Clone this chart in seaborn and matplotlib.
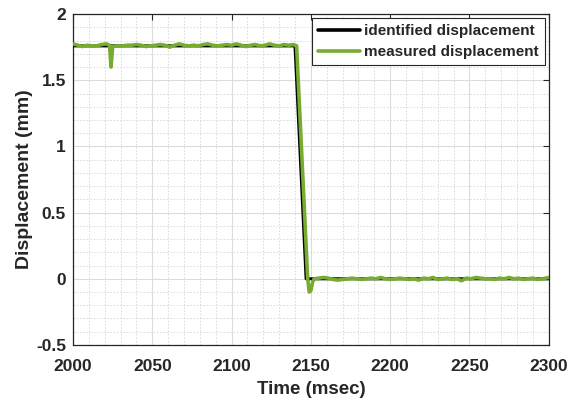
import numpy as np
import pandas as pd
import matplotlib
matplotlib.use("Agg")
import matplotlib.pyplot as plt
from matplotlib.ticker import MultipleLocator
import seaborn as sns

# ---- data ----
ident_t = [2000, 2140, 2147, 2300]
ident_v = [1.76, 1.76, 0.0, 0.0]

meas_t = [2000, 2003, 2006, 2009, 2012, 2015, 2018, 2021, 2023, 2024, 2025, 2028,
          2031, 2034, 2037, 2040, 2043, 2046, 2049, 2052, 2055, 2058, 2061, 2064,
          2067, 2070, 2073, 2076, 2079, 2082, 2085, 2088, 2091, 2094, 2097, 2100,
          2103, 2106, 2109, 2112, 2115, 2118, 2121, 2124, 2127, 2130, 2133, 2136,
          2139, 2141, 2148, 2149, 2150, 2151, 2152, 2155, 2158, 2161, 2164, 2167,
          2170, 2173, 2176, 2179, 2182, 2185, 2188, 2191, 2194, 2197, 2200, 2203,
          2206, 2209, 2212, 2215, 2218, 2221, 2224, 2227, 2230, 2233, 2236, 2239,
          2242, 2245, 2248, 2251, 2254, 2257, 2260, 2263, 2266, 2269, 2272, 2275,
          2278, 2281, 2284, 2287, 2290, 2293, 2296, 2300]
meas_v = [1.775, 1.765, 1.755, 1.765, 1.76, 1.76, 1.77, 1.775, 1.765, 1.60, 1.755, 1.76,
          1.76, 1.765, 1.765, 1.77, 1.765, 1.755, 1.76, 1.765, 1.77, 1.765, 1.75, 1.765,
          1.775, 1.765, 1.76, 1.765, 1.76, 1.77, 1.775, 1.765, 1.76, 1.765, 1.77, 1.765,
          1.775, 1.765, 1.755, 1.765, 1.77, 1.76, 1.765, 1.775, 1.765, 1.76, 1.77, 1.765,
          1.77, 1.76, 0.0, -0.10, -0.09, -0.03, 0.0, 0.005, 0.01, 0.005, -0.005, -0.01,
          -0.005, 0.0, 0.005, 0.0, -0.005, 0.0, 0.005, 0.0, 0.01, 0.0, -0.005, 0.0,
          0.005, 0.0, -0.005, 0.0, -0.01, 0.005, 0.0, 0.01, -0.005, 0.0, 0.005, -0.005,
          0.0, -0.015, 0.005, 0.0, 0.01, 0.005, 0.0, 0.0, -0.005, 0.005, 0.0, 0.01,
          0.0, 0.005, -0.005, 0.0, 0.005, -0.005, 0.0, 0.01]

labels = ["identified displacement", "measured displacement"]
x_ticks = [2000, 2050, 2100, 2150, 2200, 2250, 2300]
y_ticks = [-0.5, 0, 0.5, 1, 1.5, 2]
y_tick_labels = ["-0.5", "0", "0.5", "1", "1.5", "2"]

sns.set_style("white")
plt.rcParams['font.family'] = ['Arial', 'Liberation Sans', 'DejaVu Sans']

fig = plt.figure(figsize=(5.76, 4.03), dpi=100)
ax = fig.add_axes([0.1267, 0.144, 0.826, 0.821])

ident_df = pd.DataFrame({"t": ident_t, "v": ident_v})
meas_df = pd.DataFrame({"t": meas_t, "v": meas_v})
sns.lineplot(data=ident_df, x="t", y="v", ax=ax, color="black", lw=2.2,
             label=labels[0], zorder=3)
sns.lineplot(data=meas_df, x="t", y="v", ax=ax, color="#77AC30", lw=2.6,
             label=labels[1], zorder=4)

ax.set_xlim(2000, 2300)
ax.set_ylim(-0.5, 2)
ax.set_xticks(x_ticks)
ax.set_yticks(y_ticks)
ax.set_xticklabels([str(t) for t in x_ticks])
ax.set_yticklabels(y_tick_labels)
ax.xaxis.set_minor_locator(MultipleLocator(10))
ax.yaxis.set_minor_locator(MultipleLocator(0.1))
ax.grid(True, which="major", color="#dcdcdc", lw=0.8, ls="-")
ax.grid(True, which="minor", color="#d6d6d6", lw=0.6, ls=(0, (2, 2)))
ax.set_axisbelow(True)
ax.tick_params(which="major", direction="in", length=4, width=0.8, top=True, right=True,
               labelsize=12.5, colors="#262626")
ax.tick_params(axis="x", which="major", pad=10)
ax.tick_params(axis="y", which="major", pad=5)
ax.tick_params(which="minor", length=0)
for lab in ax.get_xticklabels() + ax.get_yticklabels():
    lab.set_fontweight("bold")
for s in ax.spines.values():
    s.set_color("#262626")
    s.set_linewidth(0.9)

ax.set_xlabel("Time (msec)", fontsize=13.5, fontweight="bold", color="#262626", labelpad=5)
ax.set_ylabel("Displacement (mm)", fontsize=14, fontweight="bold", color="#262626", labelpad=2)

leg = ax.legend(loc="upper right", fontsize=11, frameon=True, fancybox=False,
                edgecolor="#262626", framealpha=1, borderpad=0.4, handlelength=2.7,
                handletextpad=0.3, labelspacing=0.45, borderaxespad=0.25)
leg.get_frame().set_linewidth(0.8)
for t in leg.get_texts():
    t.set_fontweight("bold")
    t.set_color("#262626")
for h in leg.get_lines():
    h.set_linewidth(2.6)

fig.savefig("out.png", dpi=100)
